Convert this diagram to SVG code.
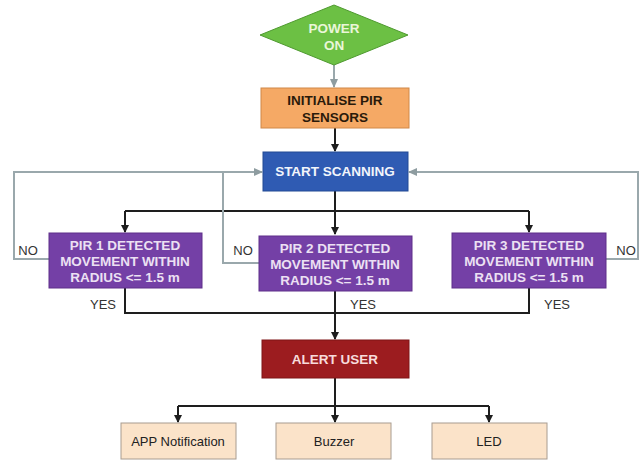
<svg xmlns="http://www.w3.org/2000/svg" width="641" height="461" viewBox="0 0 641 461">
<defs>
<marker id="ab" markerWidth="8" markerHeight="8" refX="7" refY="4" orient="auto" markerUnits="userSpaceOnUse"><path d="M0,0 L8,4 L0,8 Z" fill="#1e1e1e"/></marker>
<marker id="ag" markerWidth="9" markerHeight="8" refX="8" refY="4" orient="auto" markerUnits="userSpaceOnUse"><path d="M0,0 L9,4 L0,8 Z" fill="#8e9ca0"/></marker>
<style>
.t{font-family:"Liberation Sans",Arial,sans-serif;font-size:13px;text-anchor:middle}
.b{font-weight:bold;font-size:13.5px}
.blk{fill:none;stroke:#1e1e1e;stroke-width:2}
.gry{fill:none;stroke:#9aa8ac;stroke-width:2}
.pir{fill:#7440a6;stroke:#5e2f8a;stroke-width:1}
.pt{fill:#ece0f3}
.out{fill:#fbe3c9;stroke:#a89c90;stroke-width:1}
.lbl{fill:#333}
</style>
</defs>
<rect width="641" height="461" fill="#ffffff"/>
<g id="connectors">
<path class="gry" d="M334,65 V87" marker-end="url(#ag)"/>
<path class="blk" d="M335,128 V151" marker-end="url(#ab)"/>
<path class="blk" d="M335,191 V234" marker-end="url(#ab)"/>
<path class="blk" d="M125,211 H529"/>
<path class="blk" d="M125,211 V232" marker-end="url(#ab)"/>
<path class="blk" d="M529,211 V232" marker-end="url(#ab)"/>
<path class="gry" d="M49,259 H14 V172 H262" marker-end="url(#ag)"/>
<path class="gry" d="M259,263 H223 V172"/>
<path class="gry" d="M606,259 H638 V172 H409" marker-end="url(#ag)"/>
<path class="blk" d="M125,288 V313 H529 V288"/>
<path class="blk" d="M335,291 V339" marker-end="url(#ab)"/>
<path class="blk" d="M335,378 V422" marker-end="url(#ab)"/>
<path class="blk" d="M178,406 H489"/>
<path class="blk" d="M178,406 V422" marker-end="url(#ab)"/>
<path class="blk" d="M489,406 V422" marker-end="url(#ab)"/>
<text class="t lbl" x="28" y="255">NO</text>
<text class="t lbl" x="243" y="255">NO</text>
<text class="t lbl" x="626" y="255">NO</text>
<text class="t lbl" x="103" y="309">YES</text>
<text class="t lbl" x="363" y="309">YES</text>
<text class="t lbl" x="557" y="309">YES</text>
</g>
<g id="power">
<polygon points="334,5 408,35 334,65 260,35" fill="#6cc044" stroke="#4f9a30" stroke-width="1"/>
<text class="t b" x="334" y="33" fill="#eaf6d8">POWER</text>
<text class="t b" x="334" y="50" fill="#eaf6d8">ON</text>
</g>
<g id="init">
<rect x="261" y="88" width="148" height="40" fill="#f5a965" stroke="#d08848" stroke-width="1"/>
<text class="t b" x="335" y="105" fill="#2a1a0a">INITIALISE PIR</text>
<text class="t b" x="335" y="122" fill="#2a1a0a">SENSORS</text>
</g>
<g id="scan">
<rect x="263" y="152" width="145" height="39" fill="#2f5bb3" stroke="#234a94" stroke-width="1"/>
<text class="t b" x="335" y="176" fill="#f2f5fb">START SCANNING</text>
</g>
<g id="pir1">
<rect class="pir" x="49" y="233" width="153" height="55"/>
<text class="t b pt" x="125" y="250">PIR 1 DETECTED</text>
<text class="t b pt" x="125" y="266">MOVEMENT WITHIN</text>
<text class="t b pt" x="125" y="282">RADIUS &lt;= 1.5 m</text>
</g>
<g id="pir2">
<rect class="pir" x="259" y="236" width="153" height="55"/>
<text class="t b pt" x="335" y="253">PIR 2 DETECTED</text>
<text class="t b pt" x="335" y="269">MOVEMENT WITHIN</text>
<text class="t b pt" x="335" y="285">RADIUS &lt;= 1.5 m</text>
</g>
<g id="pir3">
<rect class="pir" x="452" y="233" width="154" height="55"/>
<text class="t b pt" x="529" y="250">PIR 3 DETECTED</text>
<text class="t b pt" x="529" y="266">MOVEMENT WITHIN</text>
<text class="t b pt" x="529" y="282">RADIUS &lt;= 1.5 m</text>
</g>
<g id="alert">
<rect x="262" y="340" width="147" height="38" fill="#9c1c1f" stroke="#7e1416" stroke-width="1"/>
<text class="t b" x="335" y="364" fill="#f7dcdc">ALERT USER</text>
</g>
<g id="app">
<rect class="out" x="121" y="423" width="115" height="36"/>
<text class="t" x="178" y="446" fill="#222">APP Notification</text>
</g>
<g id="buzzer">
<rect class="out" x="276" y="423" width="115" height="36"/>
<text class="t" x="334" y="446" fill="#222">Buzzer</text>
</g>
<g id="led">
<rect class="out" x="432" y="423" width="115" height="36"/>
<text class="t" x="489" y="446" fill="#222">LED</text>
</g>
</svg>
